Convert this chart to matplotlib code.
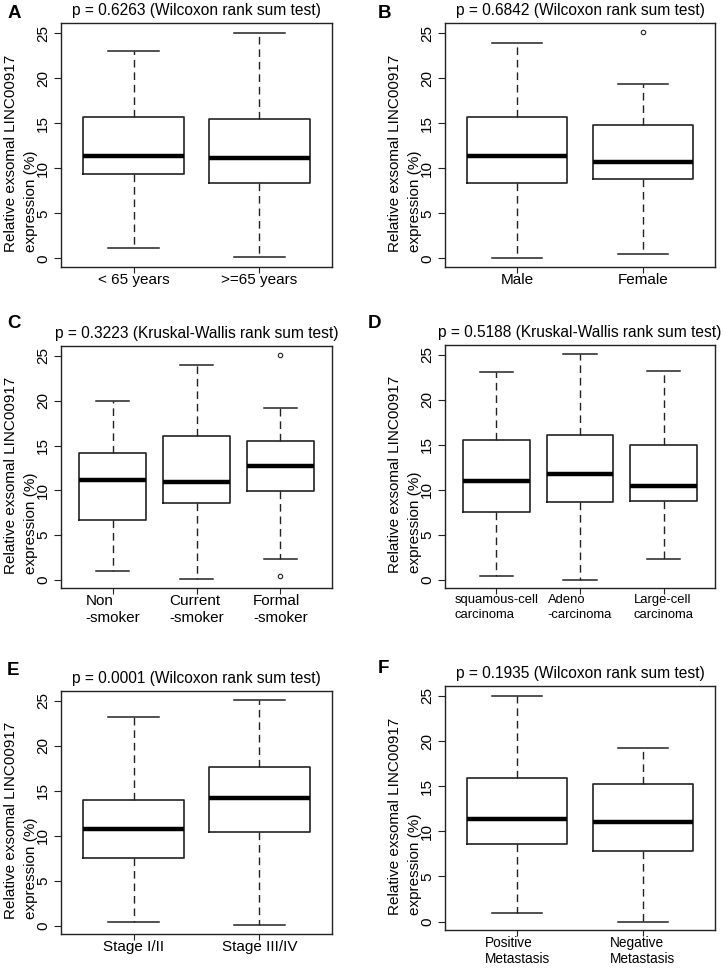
import matplotlib
matplotlib.use("Agg")
import matplotlib.pyplot as plt

plt.rcParams['font.family'] = ['Liberation Sans', 'DejaVu Sans']

# box statistics: (low whisker, Q1, median, Q3, high whisker)
age_groups = ["< 65 years", ">=65 years"]
age_stats = [(1.1, 9.37, 11.37, 15.67, 23.07), (0.1, 8.4, 11.18, 15.44, 25.07)]
age_fliers = [[], []]

sex_groups = ["Male", "Female"]
sex_stats = [(0.07, 8.4, 11.33, 15.74, 23.96), (0.48, 8.78, 10.74, 14.85, 19.33)]
sex_fliers = [[], [25.1]]

smoke_groups = ["Non\n-smoker", "Current\n-smoker", "Formal\n-smoker"]
smoke_stats = [(1.0, 6.7, 11.11, 14.19, 20.0), (0.07, 8.56, 10.89, 16.11, 23.93),
               (2.33, 9.93, 12.7, 15.52, 19.15)]
smoke_fliers = [[], [], [25.07, 0.48]]

hist_groups = ["squamous-cell\ncarcinoma", "Adeno\n-carcinoma", "Large-cell\ncarcinoma"]
hist_stats = [(0.44, 7.52, 11.0, 15.59, 23.07), (0.04, 8.63, 11.81, 16.15, 25.07),
              (2.3, 8.74, 10.44, 15.04, 23.22)]
hist_fliers = [[], [], []]

stage_groups = ["Stage I/II", "Stage III/IV"]
stage_stats = [(0.48, 7.52, 10.74, 14.04, 23.22), (0.07, 10.44, 14.26, 17.7, 25.07)]
stage_fliers = [[], []]

meta_groups = ["Positive\nMetastasis", "Negative\nMetastasis"]
meta_stats = [(0.96, 8.63, 11.33, 15.93, 25.04), (0.0, 7.78, 11.04, 15.26, 19.19)]
meta_fliers = [[], []]

titles = ["p = 0.6263 (Wilcoxon rank sum test)", "p = 0.6842 (Wilcoxon rank sum test)",
          "p = 0.3223 (Kruskal-Wallis rank sum test)", "p = 0.5188 (Kruskal-Wallis rank sum test)",
          "p = 0.0001 (Wilcoxon rank sum test)", "p = 0.1935 (Wilcoxon rank sum test)"]
letters = ["A", "B", "C", "D", "E", "F"]

panels = [(age_groups, age_stats, age_fliers), (sex_groups, sex_stats, sex_fliers),
          (smoke_groups, smoke_stats, smoke_fliers), (hist_groups, hist_stats, hist_fliers),
          (stage_groups, stage_stats, stage_fliers), (meta_groups, meta_stats, meta_fliers)]

W, H = 726, 968
fig = plt.figure(figsize=(W / 100, H / 100), dpi=100)

# axes boxes in pixels: left, top, right, bottom
boxes_px = [(60.7, 23.3, 332.3, 266.7), (444.7, 23.3, 715.3, 266.7),
            (60.7, 346, 332.3, 588.3), (444.7, 345, 715.3, 588.3),
            (60.7, 691, 332.3, 934.3), (444.7, 686, 715.3, 930)]
letter_px = [(8, 18), (378, 18), (7, 328), (368, 328), (7, 675), (378, 673)]
xlab_size = [11, 11, 11, 9.4, 11, 9.8]
xlab_spacing = [1.3, 1.3, 1.3, 1.3, 1.3, 1.22]

edge = '#222222'
for i, (groups, stats, fliers) in enumerate(panels):
    l, t, r, b = boxes_px[i]
    ax = fig.add_axes([l / W, 1 - b / H, (r - l) / W, (b - t) / H])
    bxp = []
    for (lo, q1, med, q3, hi), fl in zip(stats, fliers):
        bxp.append(dict(whislo=lo, q1=q1, med=med, q3=q3, whishi=hi, fliers=fl))
    n = len(groups)
    ax.bxp(bxp, positions=range(1, n + 1), widths=0.8, capwidths=0.4,
           boxprops=dict(color=edge, linewidth=1.2),
           medianprops=dict(color='black', linewidth=3.2, solid_capstyle='butt'),
           whiskerprops=dict(color=edge, linewidth=1.0, linestyle=(0, (5.5, 3.5))),
           capprops=dict(color=edge, linewidth=1.1),
           flierprops=dict(marker='o', markersize=3.2, markerfacecolor='none',
                           markeredgecolor=edge, markeredgewidth=0.8))
    pad_x = 0.04 * n
    ax.set_xlim(0.5 - pad_x, n + 0.5 + pad_x)
    ax.set_ylim(-0.93, 26.1)
    ax.set_yticks([0, 5, 10, 15, 20, 25])
    ax.set_xticks(range(1, n + 1))
    ax.set_xticklabels(groups, fontsize=xlab_size[i], linespacing=xlab_spacing[i],
                       multialignment='left')
    ax.tick_params(axis='y', labelrotation=90, labelsize=11, length=5, pad=2.5, color=edge)
    ax.tick_params(axis='x', length=4.5, pad=-0.3, color=edge)
    for lab in ax.get_yticklabels():
        lab.set_va('center')
    for sp in ax.spines.values():
        sp.set_color(edge)
        sp.set_linewidth(1.0)
    ax.set_title(titles[i], fontsize=11.2, pad=6)
    ax.set_ylabel("Relative exsomal LINC00917\nexpression (%)", fontsize=11,
                  multialignment='left', linespacing=1.55)
    ax.yaxis.set_label_coords(-0.085, 0.467)
    lx, ly = letter_px[i]
    fig.text(lx / W, 1 - ly / H, letters[i], fontsize=13.5, fontweight='bold', va='baseline')

fig.savefig("out.png", dpi=100)
